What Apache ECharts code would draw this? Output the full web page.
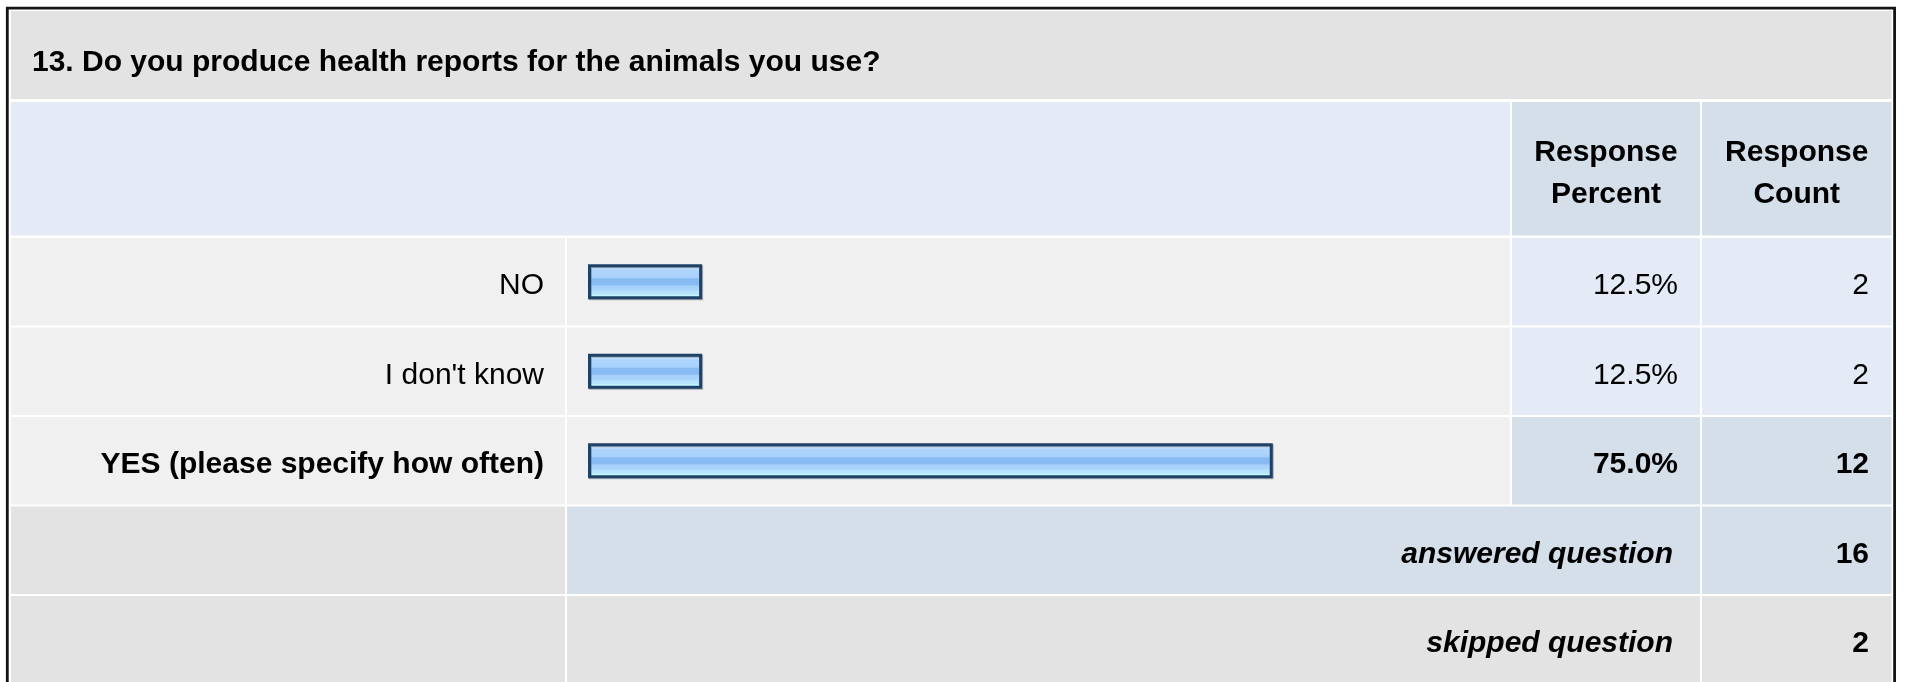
<!DOCTYPE html>
<html>
<head>
<meta charset="utf-8">
<script src="https://cdn.jsdelivr.net/npm/echarts@6/dist/echarts.min.js"></script>
<style>
  html, body { margin: 0; padding: 0; background: #ffffff; }
  #chart { width: 1907px; height: 682px; }
</style>
</head>
<body>
<div id="chart"></div>
<script>
// ---- data ----
const questionTitle = '13. Do you produce health reports for the animals you use?';
const categories = ['NO', "I don't know", 'YES (please specify how often)'];
const percents = [12.5, 12.5, 75.0];
const counts = [2, 2, 12];
const headerPercent = ['Response', 'Percent'];
const headerCount = ['Response', 'Count'];
const answeredLabel = 'answered question';
const answeredCount = 16;
const skippedLabel = 'skipped question';
const skippedCount = 2;

// ---- layout / style ----
const FONT = "'Liberation Sans', Arial, Helvetica, sans-serif";
const FS = 30;
const C_TITLE = '#e3e3e3', C_HEAD = '#e4ebf6', C_HEAD2 = '#d5dfea', C_ROW = '#f0f0f0';
const X0 = 11, X1 = 565, X2 = 567, X3 = 1510, X4 = 1512, X5 = 1700, X6 = 1702, X7 = 1891.5;
const ROW0 = 238, PITCH = 89.5, RH = 87.5, TDY = 4;
const maxIdx = percents.indexOf(Math.max.apply(null, percents));

const chart = echarts.init(document.getElementById('chart'), null, { renderer: 'canvas' });

const barGradient = new echarts.graphic.LinearGradient(0, 0, 0, 1, [
  { offset: 0.00, color: '#d4eaff' },
  { offset: 0.13, color: '#c6e3fe' },
  { offset: 0.16, color: '#aed5fc' },
  { offset: 0.38, color: '#a8d1fb' },
  { offset: 0.42, color: '#88bbf1' },
  { offset: 0.58, color: '#88bbf1' },
  { offset: 0.62, color: '#a5cffa' },
  { offset: 0.74, color: '#abd6fb' },
  { offset: 0.78, color: '#b6e0fd' },
  { offset: 0.86, color: '#b9e6fe' },
  { offset: 0.90, color: '#c4fdff' },
  { offset: 1.00, color: '#c6ffff' }
]);

chart.setOption({
  animation: false,
  grid: { left: 588, width: 913, top: ROW0 - 1, height: PITCH * 3, containLabel: false },
  xAxis: { type: 'value', min: 0, max: 100, show: false },
  yAxis: {
    type: 'category', data: categories, inverse: true,
    axisLine: { show: false }, axisTick: { show: false }, splitLine: { show: false },
    axisLabel: {
      margin: 44, color: '#000', fontFamily: FONT, fontSize: FS, padding: [TDY * 2, 0, 0, 0],
      formatter: function (v, i) { return i === maxIdx ? '{b|' + v + '}' : v; },
      rich: { b: { fontWeight: 'bold', fontFamily: FONT, fontSize: FS, color: '#000' } }
    }
  },
  series: [{
    type: 'bar', data: percents, barWidth: 35, z: 5,
    itemStyle: {
      color: barGradient, borderColor: '#1f4166', borderWidth: 3,
      shadowColor: 'rgba(110,120,135,0.55)', shadowOffsetX: 1, shadowOffsetY: 1, shadowBlur: 0
    },
    silent: true
  }]
});

function rect(x, y, w, h, fill) {
  return { type: 'rect', z: 0, shape: { x: x, y: y, width: w, height: h }, style: { fill: fill }, silent: true };
}
function text(x, y, str, align, opts) {
  opts = opts || {};
  return {
    type: 'text', z: 10, x: x, y: y, silent: true,
    style: {
      text: str, fill: '#000', font: (opts.italic ? 'italic ' : '') + (opts.bold ? 'bold ' : '') + FS + 'px ' + FONT,
      align: align, verticalAlign: 'middle', lineHeight: opts.lineHeight || FS
    }
  };
}

const g = [];
// title row
g.push(rect(X0, 11, X7 - X0, 88, C_TITLE));
// header row
g.push(rect(X0, 102, X3 - X0, 133.5, C_HEAD));
g.push(rect(X4, 102, X5 - X4, 133.5, C_HEAD2));
g.push(rect(X6, 102, X7 - X6, 133.5, C_HEAD2));
// data rows
categories.forEach(function (c, i) {
  const y = ROW0 + i * PITCH;
  const cc = i === maxIdx ? C_HEAD2 : C_HEAD;
  g.push(rect(X0, y, X1 - X0, RH, C_ROW));
  g.push(rect(X2, y, X3 - X2, RH, C_ROW));
  g.push(rect(X4, y, X5 - X4, RH, cc));
  g.push(rect(X6, y, X7 - X6, RH, cc));
});
// answered row
const yA = ROW0 + 3 * PITCH;
g.push(rect(X0, yA, X1 - X0, RH, C_TITLE));
g.push(rect(X2, yA, X5 - X2, RH, C_HEAD2));
g.push(rect(X6, yA, X7 - X6, RH, C_HEAD2));
// skipped row
const yS = ROW0 + 4 * PITCH;
g.push(rect(X0, yS, X1 - X0, RH, C_TITLE));
g.push(rect(X2, yS, X5 - X2, RH, C_TITLE));
g.push(rect(X6, yS, X7 - X6, RH, C_TITLE));
// outer border
g.push({ type: 'polyline', z: 11, silent: true,
  shape: { points: [[7.3, 700], [7.3, 8.2], [1894.6, 8.2], [1894.6, 700]] },
  style: { stroke: '#141414', lineWidth: 2.8, fill: null } });

// texts
g.push(text(32, 63, questionTitle, 'left', { bold: true }));
g.push(text((X4 + X5) / 2, 174, headerPercent.join('\n'), 'center', { bold: true, lineHeight: 42 }));
g.push(text((X6 + X7) / 2, 174, headerCount.join('\n'), 'center', { bold: true, lineHeight: 42 }));
categories.forEach(function (c, i) {
  const yc = chart.convertToPixel({ yAxisIndex: 0 }, c) + TDY;
  const b = i === maxIdx;
  g.push(text(1678, yc, percents[i].toFixed(1) + '%', 'right', { bold: b }));
  g.push(text(1869, yc, String(counts[i]), 'right', { bold: b }));
});
g.push(text(1673, yA + RH / 2 + TDY, answeredLabel, 'right', { bold: true, italic: true }));
g.push(text(1869, yA + RH / 2 + TDY, String(answeredCount), 'right', { bold: true }));
g.push(text(1673, yS + RH / 2 + TDY, skippedLabel, 'right', { bold: true, italic: true }));
g.push(text(1869, yS + RH / 2 + TDY, String(skippedCount), 'right', { bold: true }));

chart.setOption({ graphic: { elements: g } });
</script>
</body>
</html>
